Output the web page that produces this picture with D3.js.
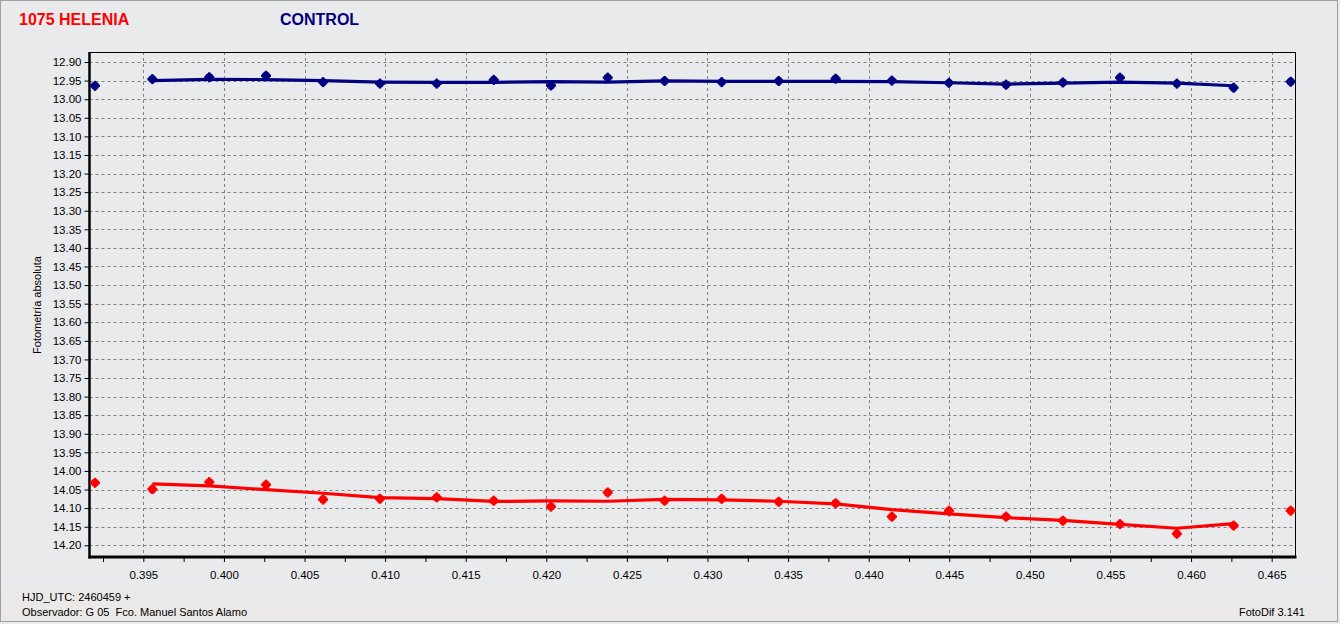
<!DOCTYPE html>
<html>
<head>
<meta charset="utf-8">
<script src="https://cdn.jsdelivr.net/npm/d3@7"></script>
<style>
  html, body { margin: 0; padding: 0; background: #e9eaec; }
  svg { display: block; }
  text { font-family: "Liberation Sans", Arial, sans-serif; }
</style>
</head>
<body>
<svg id="chart" width="1340" height="624"></svg>
<script>
// ---- data (HJD_UTC - 2460459) ----
const hjd = [0.39200, 0.39556, 0.39909, 0.40261, 0.40615, 0.40968, 0.41320, 0.41674,
             0.42029, 0.42381, 0.42734, 0.43088, 0.43442, 0.43795, 0.44144, 0.44498,
             0.44852, 0.45205, 0.45559, 0.45912, 0.46264, 0.46618];

const controlMag = [12.964, 12.946, 12.941, 12.937, 12.954, 12.958, 12.958, 12.948,
                    12.963, 12.942, 12.951, 12.954, 12.951, 12.945, 12.950, 12.956,
                    12.961, 12.955, 12.942, 12.958, 12.969, 12.953];

const targetMag = [14.032, 14.049, 14.030, 14.037, 14.077, 14.075, 14.071, 14.080,
                   14.096, 14.058, 14.080, 14.075, 14.083, 14.087, 14.123, 14.107,
                   14.123, 14.134, 14.143, 14.169, 14.147, 14.107];

// smoothed fits, defined from the 2nd to the 21st observation
const fitStart = 1;
const controlFit = [12.9498, 12.9465, 12.9471, 12.9498, 12.9538, 12.9546, 12.9546, 12.9525,
                    12.9538, 12.9506, 12.9519, 12.9519, 12.9519, 12.9525, 12.9557, 12.9592,
                    12.9565, 12.9538, 12.9565, 12.9638];
const targetFit = [14.0350, 14.0404, 14.0503, 14.0600, 14.0719, 14.0746, 14.0821, 14.0807,
                   14.0815, 14.0767, 14.0780, 14.0815, 14.0888, 14.1041, 14.1157, 14.1257,
                   14.1332, 14.1439, 14.1541, 14.1418];

const xTicks = d3.range(0, 30).map(i => +(0.3925 + i * 0.0025).toFixed(4));
const yTicks = d3.range(0, 27).map(i => +(12.90 + i * 0.05).toFixed(2));

const titleTarget = "1075 HELENIA";
const titleControl = "CONTROL";
const yLabel = "Fotometría absoluta";
const footer1 = "HJD_UTC: 2460459 +";
const footer2 = "Observador: G 05\u00a0 Fco. Manuel Santos Alamo";
const footerRight = "FotoDif 3.141";

(function () {
// ---- layout ----
const svg = d3.select("#chart");
const W = 1340, H = 624;
const pL = 89.5, pR = 1296, pT = 52, pB = 557;
const x = d3.scaleLinear().domain([0.39166, 0.46651]).range([pL, pR]);
const y = d3.scaleLinear().domain([12.873, 14.2315]).range([pT, pB]);

const red = "#ff0000", navy = "#000080";

// background & outer frame
svg.append("rect").attr("x", 0).attr("y", 0).attr("width", W).attr("height", H).attr("fill", "#e9eaec");
svg.append("rect").attr("x", 1).attr("y", 590).attr("width", W - 4).attr("height", 31).attr("fill", "#eae9e7");
svg.append("rect").attr("x", 0.5).attr("y", 0.5).attr("width", W - 3).attr("height", H - 3)
   .attr("fill", "none").attr("stroke", "#a0a0a0").attr("stroke-width", 1);

// titles
svg.append("text").attr("x", 19).attr("y", 25).attr("fill", red)
   .attr("font-size", 16).attr("font-weight", "bold").text(titleTarget);
svg.append("text").attr("x", 280).attr("y", 25).attr("fill", navy)
   .attr("font-size", 16).attr("font-weight", "bold").text(titleControl);

// grid
const grid = svg.append("g").attr("stroke", "#808080").attr("stroke-width", 1)
   .attr("stroke-dasharray", "3,3");
xTicks.filter((d, i) => i % 2 === 1).forEach(d => {
  const px = Math.round(x(d)) + 0.5;
  grid.append("line").attr("x1", px).attr("x2", px).attr("y1", pT).attr("y2", pB);
});
yTicks.forEach(d => {
  const py = Math.round(y(d)) + 0.5;
  grid.append("line").attr("x1", pL).attr("x2", pR).attr("y1", py).attr("y2", py);
});

// plot border
svg.append("rect").attr("x", pL).attr("y", pT + 0.5).attr("width", pR - pL - 0.5)
   .attr("height", pB - pT).attr("fill", "none").attr("stroke", "#000").attr("stroke-width", 1);

// axes
const xAxis = d3.axisBottom(x).tickValues(xTicks).tickSize(5).tickPadding(9)
   .tickFormat(d => (Math.round(d * 10000) % 50 === 0) ? d3.format(".3f")(d) : "");
const gx = svg.append("g").attr("transform", `translate(0,${pB})`).call(xAxis);
gx.select(".domain").remove();
gx.selectAll(".tick line").attr("stroke", "#000");
gx.selectAll(".tick text").attr("font-size", 11.5).attr("fill", "#000")
   .attr("font-family", "Liberation Sans, Arial, sans-serif");

const yAxis = d3.axisLeft(y).tickValues(yTicks).tickSize(5).tickPadding(3)
   .tickFormat(d3.format(".2f"));
const gy = svg.append("g").attr("transform", `translate(${pL},0)`).call(yAxis);
gy.select(".domain").remove();
gy.selectAll(".tick line").attr("stroke", "#000");
gy.selectAll(".tick text").attr("font-size", 11.5).attr("fill", "#000")
   .attr("font-family", "Liberation Sans, Arial, sans-serif");

// thick axis lines
svg.append("line").attr("x1", pL).attr("x2", pL).attr("y1", pT).attr("y2", pB + 1.5)
   .attr("stroke", "#000").attr("stroke-width", 2.5);
svg.append("line").attr("x1", pL - 1).attr("x2", pR + 0.5).attr("y1", pB).attr("y2", pB)
   .attr("stroke", "#000").attr("stroke-width", 3);

// y label
svg.append("text").attr("transform", "translate(41,305) rotate(-90)")
   .attr("text-anchor", "middle").attr("font-size", 11).attr("fill", "#000").text(yLabel);

// series
const line = d3.line().x(d => x(d[0])).y(d => y(d[1]));
const series = [
  {mag: controlMag, fit: controlFit, color: navy},
  {mag: targetMag, fit: targetFit, color: red}
];
series.forEach(s => {
  const fitPts = s.fit.map((v, i) => [hjd[fitStart + i], v]);
  svg.append("path").attr("d", line(fitPts)).attr("fill", "none")
     .attr("stroke", s.color).attr("stroke-width", 3.2).attr("stroke-linejoin", "round");
  const pts = svg.append("g").attr("fill", s.color).selectAll("g")
     .data(s.mag.map((v, i) => [hjd[i], v])).join("g")
     .attr("transform", d => `translate(${x(d[0])},${y(d[1])})`);
  pts.append("circle").attr("r", 4.2);
  pts.append("rect").attr("x", -1.2).attr("y", -5).attr("width", 2.4).attr("height", 10);
  pts.append("rect").attr("x", -5).attr("y", -1.2).attr("width", 10).attr("height", 2.4);
});

// footer
svg.append("text").attr("x", 22).attr("y", 601).attr("font-size", 11).attr("fill", "#000").text(footer1);
svg.append("text").attr("x", 22).attr("y", 616).attr("font-size", 11).attr("fill", "#000").text(footer2);
svg.append("text").attr("x", 1305).attr("y", 616).attr("text-anchor", "end")
   .attr("font-size", 11).attr("fill", "#000").text(footerRight);
})();
</script>
</body>
</html>
